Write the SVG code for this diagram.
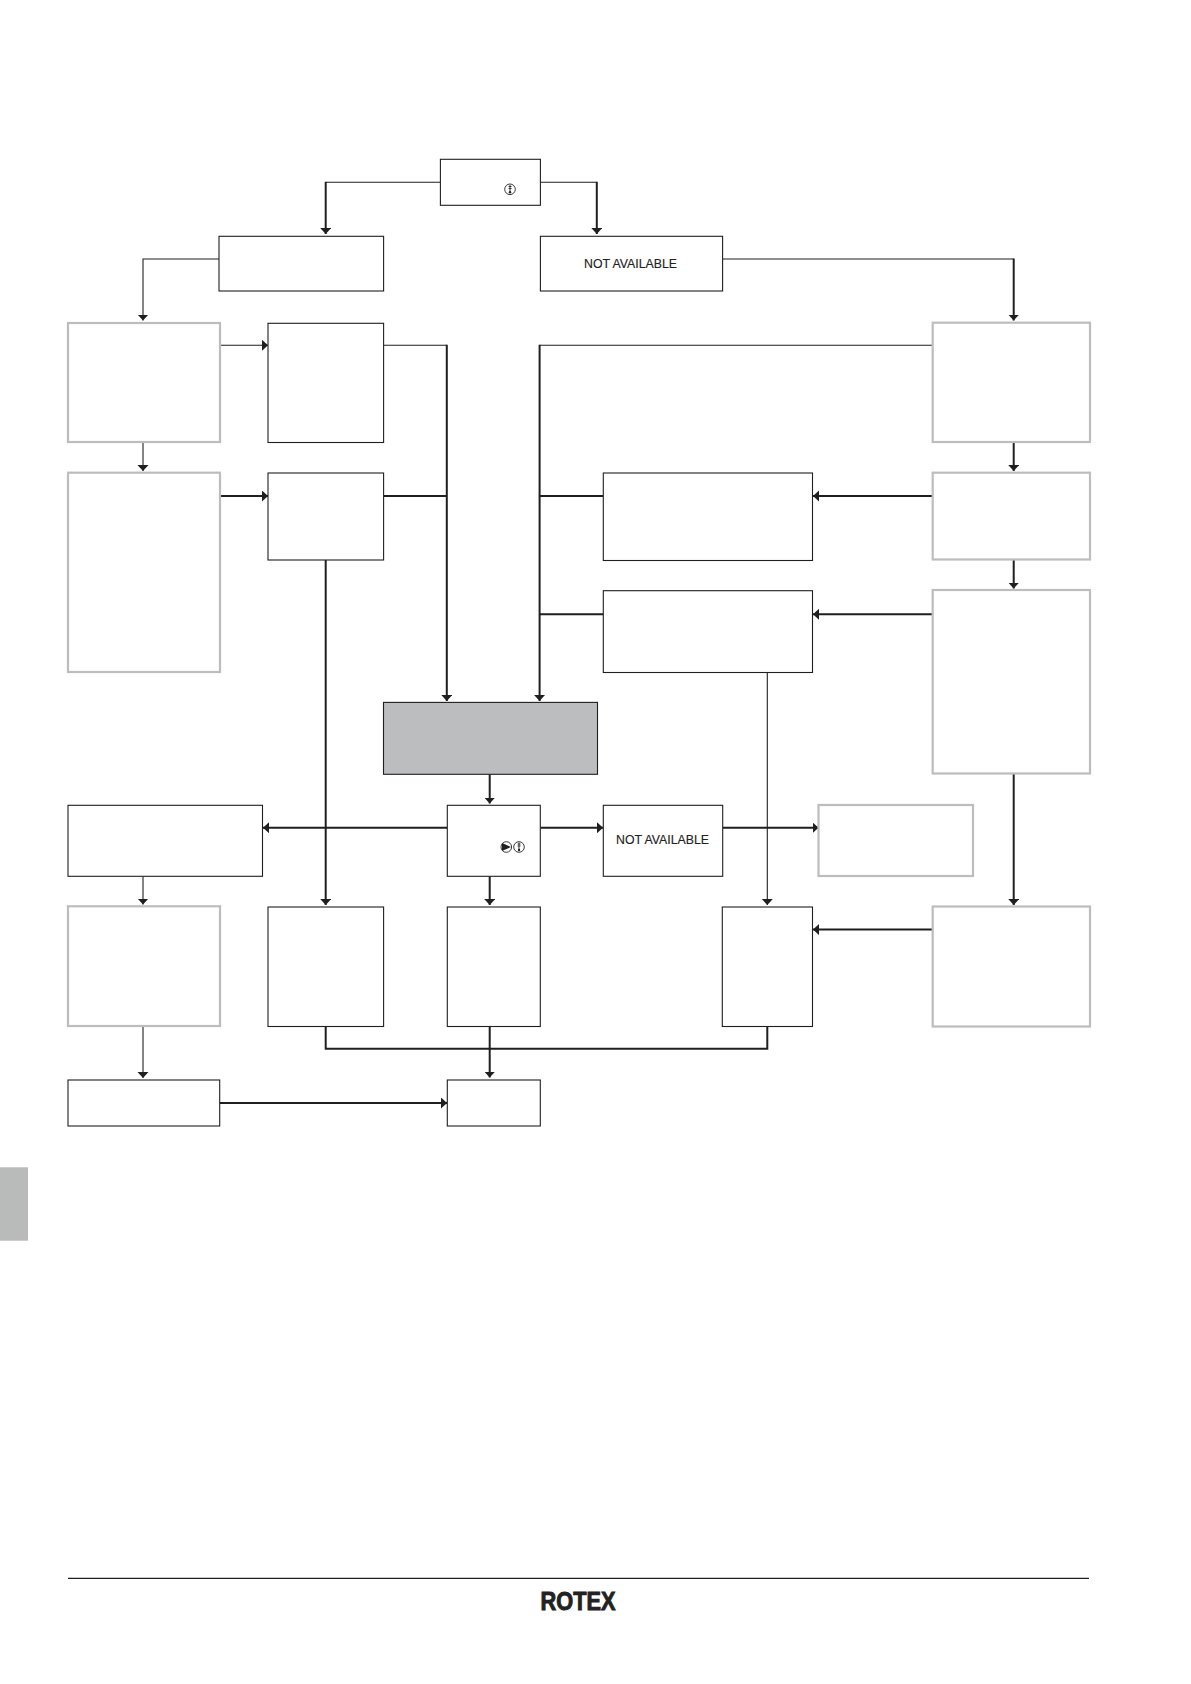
<svg xmlns="http://www.w3.org/2000/svg" width="1191" height="1684" viewBox="0 0 1191 1684">
<style>
.b{fill:#fff;stroke:#1f1f1f;stroke-width:1.1}
.g{fill:#fff;stroke:#bdbdbd;stroke-width:2.2}
.f{fill:#bcbdbe;stroke:#1f1f1f;stroke-width:1.1}
.c{fill:none;stroke:#1f1f1f;stroke-width:1.1}
.t{fill:none;stroke:#1f1f1f;stroke-width:2}
.txt{font-family:"Liberation Sans",Arial,sans-serif;font-size:12.3px;fill:#222;stroke:#222;stroke-width:.15}
.i{fill:none;stroke:#222;stroke-width:.9}
</style>
<defs>
<marker id="a" markerUnits="userSpaceOnUse" markerWidth="8" markerHeight="12" refX="6" refY="5.5" orient="auto"><path d="M0 0L6 5.5L0 11z" fill="#1f1f1f"/></marker>
</defs>
<rect width="1191" height="1684" fill="#fff"/>
<rect id="side-tab" x="0" y="1167.3" width="28" height="73.4" fill="#b9baba"/>
<g id="connectors">
<path class="c" d="M440.4 182.3H325.7"/>
<path class="t" d="M325.7 181.8V234" marker-end="url(#a)"/>
<path class="c" d="M540.4 182.3H596.8"/>
<path class="t" d="M596.8 181.8V234" marker-end="url(#a)"/>
<path class="c" d="M219 259H143V320.5" marker-end="url(#a)"/>
<path class="c" d="M722.6 259H1013.7"/>
<path class="t" d="M1013.7 258.5V320.5" marker-end="url(#a)"/>
<path class="c" d="M220 345.3H268" marker-end="url(#a)"/>
<path class="t" d="M220 496H268" marker-end="url(#a)"/>
<path class="c" d="M143 442.5V471" marker-end="url(#a)"/>
<path class="c" d="M383.6 345.3H446.8"/>
<path class="t" d="M446.8 344.8V701" marker-end="url(#a)"/>
<path class="t" d="M383.6 496H446.8"/>
<path class="c" d="M934 345.3H539.6"/>
<path class="t" d="M539.6 344.8V701" marker-end="url(#a)"/>
<path class="t" d="M603.3 496H539.6"/>
<path class="t" d="M603.3 614.3H539.6"/>
<path class="t" d="M934 496H813" marker-end="url(#a)"/>
<path class="t" d="M934 614.3H813" marker-end="url(#a)"/>
<path class="t" d="M1013.7 442.5V471" marker-end="url(#a)"/>
<path class="t" d="M1013.7 560V588.5" marker-end="url(#a)"/>
<path class="t" d="M1013.7 774V905" marker-end="url(#a)"/>
<path class="t" d="M325.7 560V905" marker-end="url(#a)"/>
<path class="c" d="M767.3 672.5V905" marker-end="url(#a)"/>
<path class="t" d="M489.7 774.3V803.5" marker-end="url(#a)"/>
<path class="t" d="M447.3 827.7H263" marker-end="url(#a)"/>
<path class="t" d="M540.3 827.7H603" marker-end="url(#a)"/>
<path class="t" d="M722.7 827.7H818.5" marker-end="url(#a)"/>
<path class="c" d="M143 876.5V904.5" marker-end="url(#a)"/>
<path class="t" d="M489.7 876.3V905" marker-end="url(#a)"/>
<path class="t" d="M934 929.6H813" marker-end="url(#a)"/>
<path class="t" d="M325.7 1026.5V1048.7H767.3V1026.5"/>
<path class="t" d="M489.7 1026.5V1077.5" marker-end="url(#a)"/>
<path class="c" d="M143 1026.5V1078" marker-end="url(#a)"/>
<path class="t" d="M219.7 1103H447" marker-end="url(#a)"/>
</g>
<g id="n-top"><rect class="b" x="440.4" y="159.3" width="100" height="46"/>
<circle class="i" cx="510" cy="189.3" r="5.3"/><path class="i" d="M510 185V192.5M508.6 186.5H511.5M508.6 188.5H511.5"/><circle cx="510" cy="192.3" r="1.2" fill="#222"/></g>
<g id="n-left"><rect class="b" x="219" y="236.3" width="164.6" height="54.7"/></g>
<g id="n-na1"><rect class="b" x="540.4" y="236.3" width="182.2" height="54.7"/><text class="txt" x="630.5" y="268" text-anchor="middle">NOT AVAILABLE</text></g>
<g id="n-g1"><rect class="g" x="68" y="323" width="152" height="119"/></g>
<g id="n-c1"><rect class="b" x="268" y="323.3" width="115.6" height="119.2"/></g>
<g id="n-r1"><rect class="g" x="932.7" y="322.7" width="157.3" height="119.3"/></g>
<g id="n-g2"><rect class="g" x="68" y="472.7" width="152" height="199.3"/></g>
<g id="n-c2"><rect class="b" x="268" y="473" width="115.6" height="87"/></g>
<g id="n-m1"><rect class="b" x="603.3" y="473" width="209.2" height="87.5"/></g>
<g id="n-r2"><rect class="g" x="932.7" y="472.7" width="157.3" height="86.8"/></g>
<g id="n-m2"><rect class="b" x="603.3" y="590.7" width="209.2" height="81.8"/></g>
<g id="n-r3"><rect class="g" x="932.7" y="590" width="157.3" height="183.5"/></g>
<g id="n-center"><rect class="f" x="383.5" y="702.4" width="214" height="71.9"/></g>
<g id="n-l4"><rect class="b" x="68" y="805.3" width="194.5" height="71"/></g>
<g id="n-dec"><rect class="b" x="447.3" y="805.3" width="93" height="71"/>
<circle class="i" cx="506.3" cy="847" r="5.3"/><path d="M502 843L511 847L502 851z" fill="#222"/>
<circle class="i" cx="519" cy="847" r="5.3"/><path class="i" d="M519 842.5V850.5M517.6 844H520.5M517.6 846H520.5"/><circle cx="519" cy="850" r="1.2" fill="#222"/></g>
<g id="n-na2"><rect class="b" x="603.3" y="805.3" width="119.4" height="71"/><text class="txt" x="662.5" y="844.3" text-anchor="middle">NOT AVAILABLE</text></g>
<g id="n-g5"><rect class="g" x="818.5" y="805" width="154.5" height="71"/></g>
<g id="n-g3"><rect class="g" x="68" y="906.3" width="152" height="119.7"/></g>
<g id="n-c3"><rect class="b" x="268" y="907" width="115.6" height="119.5"/></g>
<g id="n-c4"><rect class="b" x="447.3" y="907" width="93" height="119.5"/></g>
<g id="n-c5"><rect class="b" x="722.3" y="907" width="90.2" height="119.5"/></g>
<g id="n-r4"><rect class="g" x="932.7" y="906.5" width="157.3" height="120"/></g>
<g id="n-b1"><rect class="b" x="68" y="1080" width="151.7" height="46"/></g>
<g id="n-b2"><rect class="b" x="447.3" y="1080" width="93" height="46"/></g>
<path id="footer-line" d="M68 1578.3H1089" stroke="#1f1f1f" stroke-width="1.2" fill="none"/>
<text id="logo" x="540.5" y="1610" font-family="Liberation Sans,sans-serif" font-weight="bold" font-size="25" textLength="75" lengthAdjust="spacingAndGlyphs" fill="#222" stroke="#222" stroke-width=".9">ROTEX</text>
</svg>
